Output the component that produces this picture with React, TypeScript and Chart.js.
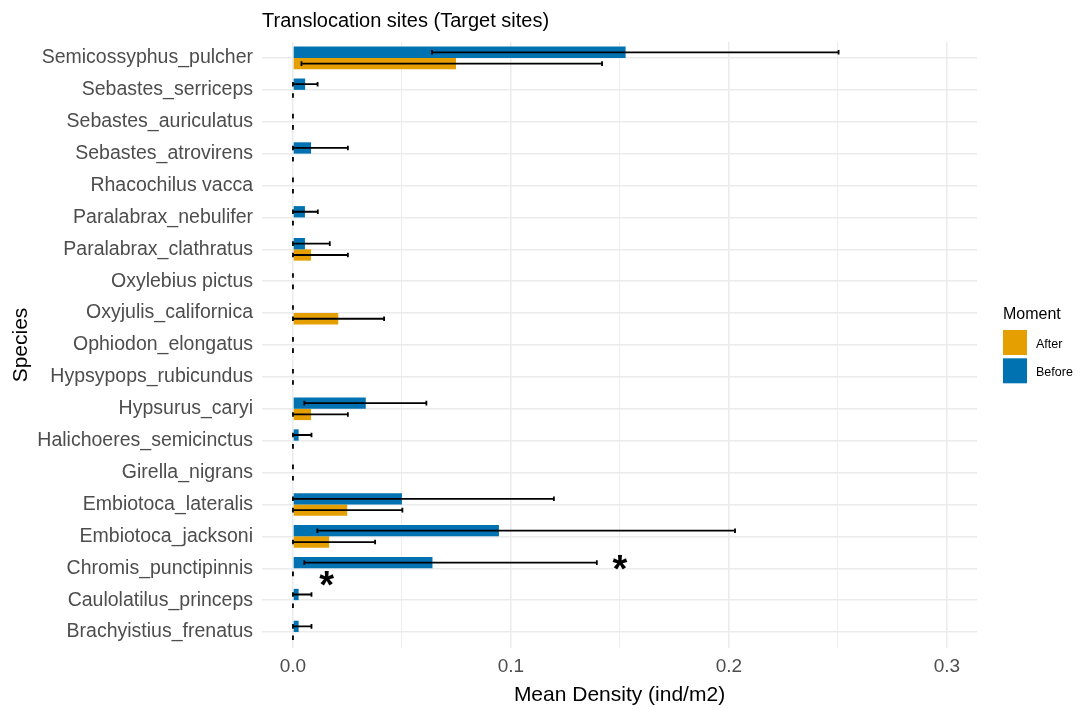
import React, { useEffect, useRef } from 'react';
import { Chart, registerables } from 'chart.js';

Chart.register(...registerables);

const FF = "'Liberation Sans', Arial, Helvetica, sans-serif";

const chartTitle = 'Translocation sites (Target sites)';
const xAxisTitle = 'Mean Density (ind/m2)';
const yAxisTitle = 'Species';
const legendTitle = 'Moment';
const legendOrder = ['After', 'Before'];

const categories = [
  'Semicossyphus_pulcher',
  'Sebastes_serriceps',
  'Sebastes_auriculatus',
  'Sebastes_atrovirens',
  'Rhacochilus vacca',
  'Paralabrax_nebulifer',
  'Paralabrax_clathratus',
  'Oxylebius pictus',
  'Oxyjulis_californica',
  'Ophiodon_elongatus',
  'Hypsypops_rubicundus',
  'Hypsurus_caryi',
  'Halichoeres_semicinctus',
  'Girella_nigrans',
  'Embiotoca_lateralis',
  'Embiotoca_jacksoni',
  'Chromis_punctipinnis',
  'Caulolatilus_princeps',
  'Brachyistius_frenatus',
];

const beforeMean = [0.1526, 0.0056, 0, 0.0083, 0, 0.0055, 0.0055, 0, 0, 0, 0, 0.0334, 0.0026, 0, 0.05, 0.0945, 0.064, 0.0026, 0.0026];
const beforeLow = [0.0638, 0, 0, 0, 0, 0, 0, 0, 0, 0, 0, 0.0052, 0, 0, 0, 0.0112, 0.0052, 0, 0];
const beforeHigh = [0.2503, 0.0113, 0, 0.0252, 0, 0.0114, 0.0169, 0, 0, 0, 0, 0.0612, 0.0085, 0, 0.1197, 0.2028, 0.1394, 0.0085, 0.0085];

const afterMean = [0.0748, 0, 0, 0, 0, 0, 0.0083, 0, 0.0208, 0, 0, 0.0083, 0, 0, 0.0249, 0.0166, 0, 0, 0];
const afterLow = [0.0039, 0, 0, 0, 0, 0, 0, 0, 0, 0, 0, 0, 0, 0, 0, 0, 0, 0, 0];
const afterHigh = [0.1418, 0, 0, 0, 0, 0, 0.0252, 0, 0.0418, 0, 0, 0.0252, 0, 0, 0.0502, 0.0377, 0, 0, 0];

// significance marks
const starCategory = 'Chromis_punctipinnis';
const starSeries = ['Before', 'After'];
const starValues = [0.15, 0.0155];

const xMin = -0.0142;
const xMax = 0.3138;
const xStep = 0.05;

const isMajor = (v: number) => Math.abs(v * 10 - Math.round(v * 10)) < 1e-6;

export default function App() {
  const ref = useRef<HTMLCanvasElement>(null);

  useEffect(() => {
    const canvas = ref.current;
    if (!canvas) return;

    const errorBars = {
      id: 'errorBars',
      afterDatasetsDraw(chart: any) {
        const c = chart.ctx;
        const xs = chart.scales.x;
        chart.data.datasets.forEach((ds: any, di: number) => {
          const meta = chart.getDatasetMeta(di);
          meta.data.forEach((el: any, i: number) => {
            const y = el.y;
            const x1 = xs.getPixelForValue(ds.errLow[i]);
            const x2 = xs.getPixelForValue(ds.errHigh[i]);
            c.save();
            c.strokeStyle = '#000000';
            c.lineWidth = 1.8;
            c.lineCap = 'butt';
            c.beginPath();
            c.moveTo(x1, y);
            c.lineTo(x2, y);
            c.moveTo(x1, y - 2.3);
            c.lineTo(x1, y + 2.3);
            c.moveTo(x2, y - 2.3);
            c.lineTo(x2, y + 2.3);
            c.stroke();
            c.restore();
          });
        });
      },
    };

    const annotations = {
      id: 'annotations',
      afterDraw(chart: any) {
        const c = chart.ctx;
        const area = chart.chartArea;
        const xs = chart.scales.x;
        c.save();
        // title
        c.fillStyle = '#000000';
        c.font = `20px ${FF}`;
        c.textAlign = 'left';
        c.textBaseline = 'alphabetic';
        c.fillText(chartTitle, area.left, 27);
        // x title
        c.font = `21px ${FF}`;
        c.textAlign = 'center';
        c.fillText(xAxisTitle, (area.left + area.right) / 2, 701);
        // y title
        c.save();
        c.translate(27, (area.top + area.bottom) / 2);
        c.rotate(-Math.PI / 2);
        c.textAlign = 'center';
        c.fillText(yAxisTitle, 0, 0);
        c.restore();
        // legend
        c.textAlign = 'left';
        c.font = `16px ${FF}`;
        c.fillStyle = '#000000';
        c.fillText(legendTitle, 1003, 319);
        legendOrder.forEach((name, k) => {
          const ds = chart.data.datasets.find((d: any) => d.label === name);
          c.fillStyle = ds.backgroundColor;
          c.fillRect(1003, 330 + k * 28.3, 24, 25);
          c.fillStyle = '#000000';
          c.font = `12.5px ${FF}`;
          c.fillText(name, 1036, 347.5 + k * 28.3);
        });
        // significance asterisks
        const idx = categories.indexOf(starCategory);
        c.font = `bold 38px ${FF}`;
        c.textAlign = 'center';
        const m = c.measureText('*');
        const asc = m.actualBoundingBoxAscent;
        const desc = m.actualBoundingBoxDescent;
        starValues.forEach((v, k) => {
          const di = chart.data.datasets.findIndex((d: any) => d.label === starSeries[k]);
          const el = chart.getDatasetMeta(di).data[idx];
          const cy = el.y + (k === 0 ? 0 : 5);
          const px = xs.getPixelForValue(v);
          c.fillStyle = '#000000';
          c.fillText('*', px, cy - (desc - asc) / 2);
        });
        c.restore();
      },
    };

    const chart = new Chart(canvas, {
      type: 'bar',
      data: {
        labels: categories,
        datasets: [
          {
            label: 'Before',
            data: beforeMean,
            backgroundColor: '#0072B2',
            borderWidth: 0,
            categoryPercentage: 0.71,
            barPercentage: 1.0,
            errLow: beforeLow,
            errHigh: beforeHigh,
          } as any,
          {
            label: 'After',
            data: afterMean,
            backgroundColor: '#E69F00',
            borderWidth: 0,
            categoryPercentage: 0.71,
            barPercentage: 1.0,
            errLow: afterLow,
            errHigh: afterHigh,
          } as any,
        ],
      },
      options: {
        responsive: false,
        animation: false,
        indexAxis: 'y',
        layout: { padding: { left: 0, right: 104, top: 42, bottom: 0 } },
        plugins: {
          legend: { display: false },
          tooltip: { enabled: false },
          title: { display: false },
        },
        scales: {
          y: {
            type: 'category',
            offset: true,
            grid: { color: '#EBEBEB', lineWidth: 1.5, drawTicks: false, offset: false },
            border: { display: false },
            ticks: {
              color: '#4D4D4D',
              font: { family: FF, size: 19.5 },
              padding: 9,
              autoSkip: false,
            },
            afterFit: (s: any) => {
              s.width = 262;
            },
          },
          x: {
            type: 'linear',
            min: xMin,
            max: xMax,
            grid: {
              color: '#EBEBEB',
              lineWidth: (ctx: any) => (ctx.tick && isMajor(ctx.tick.value) ? 1.5 : 0.9),
              drawTicks: false,
            },
            border: { display: false },
            ticks: {
              stepSize: xStep,
              includeBounds: false,
              autoSkip: false,
              maxRotation: 0,
              color: '#4D4D4D',
              font: { family: FF, size: 19 },
              padding: 7,
              callback: (v: any) => (isMajor(Number(v)) ? Number(v).toFixed(1) : ''),
            },
            afterFit: (s: any) => {
              s.height = 61;
            },
          },
        },
      } as any,
      plugins: [errorBars, annotations],
    });

    return () => chart.destroy();
  }, []);

  return (
    <canvas
      ref={ref}
      width={1081}
      height={709}
      style={{ position: 'absolute', left: 0, top: 0, width: 1081, height: 709, display: 'block', background: '#ffffff' }}
    />
  );
}
